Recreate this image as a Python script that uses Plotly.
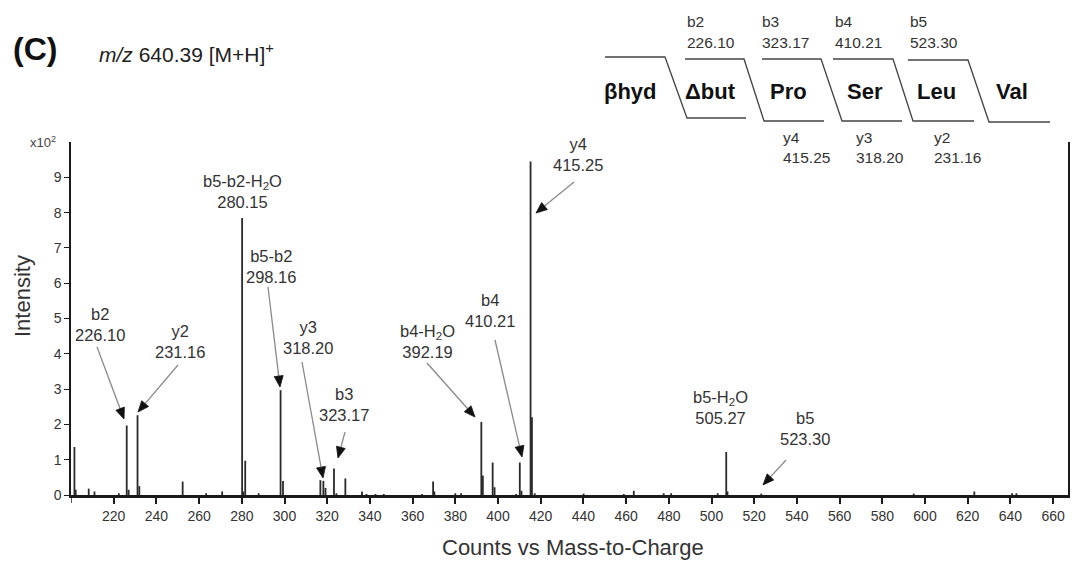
import plotly.graph_objects as go

# ---------------- data ----------------
# peak list (m/z, intensity in units of 10^2 counts)
mz = [201.6, 202.2, 208.3, 211.0, 222.4, 226.10, 227.0, 231.16, 232.0, 252.3,
      263.3, 270.8, 280.15, 280.7, 281.6, 287.9, 298.16, 299.3, 316.8, 318.20,
      319.2, 323.17, 324.3, 328.5, 336.3, 338.4, 342.6, 346.5, 364.4, 369.6,
      370.2, 380.0, 382.7, 392.19, 392.9, 397.5, 398.4, 408.5, 410.21, 411.0,
      415.25, 415.9, 417.2, 440.1, 458.9, 463.6, 477.6, 481.1, 502.9, 506.9,
      507.5, 523.30, 594.7, 623.1, 640.8, 642.8]
intensity = [1.36, 0.15, 0.18, 0.10, 0.05, 1.97, 0.15, 2.26, 0.25, 0.38,
             0.05, 0.10, 7.85, 0.10, 0.97, 0.05, 2.97, 0.40, 0.42, 0.40,
             0.20, 0.75, 0.05, 0.47, 0.10, 0.03, 0.03, 0.03, 0.03, 0.38,
             0.10, 0.05, 0.05, 2.07, 0.55, 0.92, 0.22, 0.03, 0.92, 0.12,
             9.45, 2.20, 0.05, 0.04, 0.03, 0.12, 0.05, 0.05, 0.05, 1.22,
             0.10, 0.04, 0.04, 0.10, 0.05, 0.05]

label_names = ["b2", "y2", "b5-b2-H<sub>2</sub>O", "b5-b2", "y3", "b3",
               "b4-H<sub>2</sub>O", "b4", "y4", "b5-H<sub>2</sub>O", "b5"]
label_values = ["226.10", "231.16", "280.15", "298.16", "318.20", "323.17",
                "392.19", "410.21", "415.25", "505.27", "523.30"]

residues = ["βhyd", "Δbut", "Pro", "Ser", "Leu", "Val"]
b_ions = ["b2", "b3", "b4", "b5"]
b_values = ["226.10", "323.17", "410.21", "523.30"]
y_ions = ["y4", "y3", "y2"]
y_values = ["415.25", "318.20", "231.16"]

x_tickvals = [220, 240, 260, 280, 300, 320, 340, 360, 380, 400, 420, 440,
              460, 480, 500, 520, 540, 560, 580, 600, 620, 640, 660]
x_ticktext = ["220", "240", "260", "280", "300", "320", "340", "360", "380",
              "400", "420", "440", "460", "480", "500", "520", "540", "560",
              "580", "600", "620", "640", "660"]
y_tickvals = [0, 1, 2, 3, 4, 5, 6, 7, 8, 9]
y_ticktext = ["0", "1", "2", "3", "4", "5", "6", "7", "8", "9"]

# ---------------- layout geometry (pixels) ----------------
W, H = 1077, 563
L, R, T, B = 71, 9, 142, 68
PW, PH = W - L - R, H - T - B
FONT = "Liberation Sans, Arial, sans-serif"
TXT = "#333333"


def px(x):
    return (x - L) / PW


def py(y):
    return (H - B - y) / PH


# label centres (pixel) for the spectrum annotations
label_pos = [(100, 324), (180, 341), (242, 192), (271, 266), (308, 337),
             (344, 404), (427, 341), (490, 310), (578, 154), (720, 407),
             (805, 428)]
# arrows (start pixel, end pixel)
arrows = [((97, 347), (124, 419)), ((178, 365), (138, 412)),
          ((268, 287), (280, 387)), ((302, 362), (323, 478)),
          ((345, 432), (338, 458)), ((427, 363), (475, 417)),
          ((495, 340), (522, 457)), ((574, 182), (536, 213)),
          ((786, 460), (763, 485))]

# ---------------- figure ----------------
xs, ys = [], []
for m, v in zip(mz, intensity):
    xs += [m, m, None]
    ys += [0, v, None]

fig = go.Figure()
fig.add_trace(go.Scatter(x=xs, y=ys, mode="lines",
                         line=dict(color="#2a2a2a", width=1.8),
                         hoverinfo="skip", showlegend=False))

ann = []
for (name, val), (cx, cy) in zip(zip(label_names, label_values), label_pos):
    ann.append(dict(x=px(cx), y=py(cy), xref="paper", yref="paper",
                    text=f"{name}<br>{val}", showarrow=False,
                    xanchor="center", yanchor="middle", align="center",
                    font=dict(family=FONT, size=16.5, color=TXT)))

shapes = []
HEAD_L, HEAD_W = 11, 4.5
for (sx, sy), (ex, ey) in arrows:
    dx, dy = sx - ex, sy - ey
    d = (dx * dx + dy * dy) ** 0.5
    ux, uy = dx / d, dy / d
    bx, by = ex + ux * HEAD_L, ey + uy * HEAD_L
    shapes.append(dict(type="line", xref="paper", yref="paper",
                       x0=px(sx), y0=py(sy), x1=px(bx), y1=py(by),
                       line=dict(color="#8a8a8a", width=1.3)))
    p1 = (bx - uy * HEAD_W, by + ux * HEAD_W)
    p2 = (bx + uy * HEAD_W, by - ux * HEAD_W)
    path = (f"M {px(ex):.5f},{py(ey):.5f} L {px(p1[0]):.5f},{py(p1[1]):.5f} "
            f"L {px(p2[0]):.5f},{py(p2[1]):.5f} Z")
    shapes.append(dict(type="path", path=path, xref="paper", yref="paper",
                       fillcolor="#111111", line=dict(color="#111111", width=0.8)))

# unlabeled first tick at the left end of the m/z axis
shapes.append(dict(type="line", xref="x", yref="paper", x0=200, x1=200,
                   y0=py(496), y1=py(503), line=dict(color="#1a1a1a", width=1.5)))

# title texts
ann.append(dict(x=px(35), y=py(49), xref="paper", yref="paper", text="<b>(C)</b>",
                showarrow=False, xanchor="center", yanchor="middle",
                font=dict(family=FONT, size=32, color="#111111")))
ann.append(dict(x=px(97), y=py(53), xref="paper", yref="paper",
                text="<i>m/z</i> 640.39 [M+H]<sup>+</sup>",
                showarrow=False, xanchor="left", yanchor="middle",
                font=dict(family=FONT, size=21, color="#222222")))
ann.append(dict(x=px(43), y=py(142), xref="paper", yref="paper",
                text="x10<sup>2</sup>", showarrow=False,
                xanchor="center", yanchor="middle",
                font=dict(family=FONT, size=13, color="#444444")))
# axis titles
ann.append(dict(x=px(573), y=py(547), xref="paper", yref="paper",
                text="Counts vs Mass-to-Charge", showarrow=False,
                xanchor="center", yanchor="middle",
                font=dict(family=FONT, size=22, color=TXT)))
ann.append(dict(x=px(22), y=py(296), xref="paper", yref="paper",
                text="Intensity", showarrow=False, textangle=-90,
                xanchor="center", yanchor="middle",
                font=dict(family=FONT, size=22, color=TXT)))

# peptide sequence diagram
res_x = [630, 710, 788, 865, 936, 1012]
for r, rx in zip(residues, res_x):
    ann.append(dict(x=px(rx), y=py(92), xref="paper", yref="paper",
                    text=f"<b>{r}</b>", showarrow=False,
                    xanchor="center", yanchor="middle",
                    font=dict(family=FONT, size=22, color="#111111")))
b_x = [685, 760, 833, 908]
for n, v, bx in zip(b_ions, b_values, b_x):
    ann.append(dict(x=px(bx), y=py(21), xref="paper", yref="paper", text=n,
                    showarrow=False, xanchor="left", yanchor="middle",
                    font=dict(family=FONT, size=15.5, color=TXT)))
    ann.append(dict(x=px(bx), y=py(42), xref="paper", yref="paper", text=v,
                    showarrow=False, xanchor="left", yanchor="middle",
                    font=dict(family=FONT, size=15.5, color=TXT)))
y_x = [781, 854, 932]
for n, v, yx in zip(y_ions, y_values, y_x):
    ann.append(dict(x=px(yx), y=py(137), xref="paper", yref="paper", text=n,
                    showarrow=False, xanchor="left", yanchor="middle",
                    font=dict(family=FONT, size=15.5, color=TXT)))
    ann.append(dict(x=px(yx), y=py(157), xref="paper", yref="paper", text=v,
                    showarrow=False, xanchor="left", yanchor="middle",
                    font=dict(family=FONT, size=15.5, color=TXT)))

brackets = [[(605, 57), (665, 57), (687, 118), (746, 118)],
            [(685, 59), (744, 59), (764, 121), (824, 121)],
            [(762, 59), (821, 59), (842, 121), (902, 121)],
            [(833, 59), (893, 59), (913, 121), (974, 121)],
            [(908, 60), (968, 60), (989, 122), (1050, 122)]]
for br in brackets:
    path = "M " + " L ".join(f"{px(a):.5f},{py(b):.5f}" for a, b in br)
    shapes.append(dict(type="path", path=path, xref="paper", yref="paper",
                       line=dict(color="#444444", width=1.3)))

fig.update_layout(
    width=W, height=H,
    margin=dict(l=L, r=R, t=T, b=B, autoexpand=False),
    paper_bgcolor="white", plot_bgcolor="white",
    showlegend=False,
    annotations=ann, shapes=shapes,
    xaxis=dict(range=[200, 200 + PW / 2.135], tickvals=x_tickvals,
               ticktext=x_ticktext, showgrid=False, zeroline=False,
               showline=True, linewidth=2.5, linecolor="#1a1a1a",
               ticks="outside", ticklen=6, tickwidth=1.5, tickcolor="#1a1a1a",
               tickfont=dict(family=FONT, size=14, color="#333333"),
               fixedrange=True),
    yaxis=dict(range=[0, 10], tickvals=y_tickvals, ticktext=y_ticktext,
               showgrid=False, zeroline=False, showline=True, mirror=True,
               linewidth=1.5, linecolor="#1a1a1a", ticks="outside", ticklen=5,
               tickwidth=1.2, tickcolor="#1a1a1a",
               tickfont=dict(family=FONT, size=14, color="#333333"),
               fixedrange=True),
)

fig.write_html("out.html")
